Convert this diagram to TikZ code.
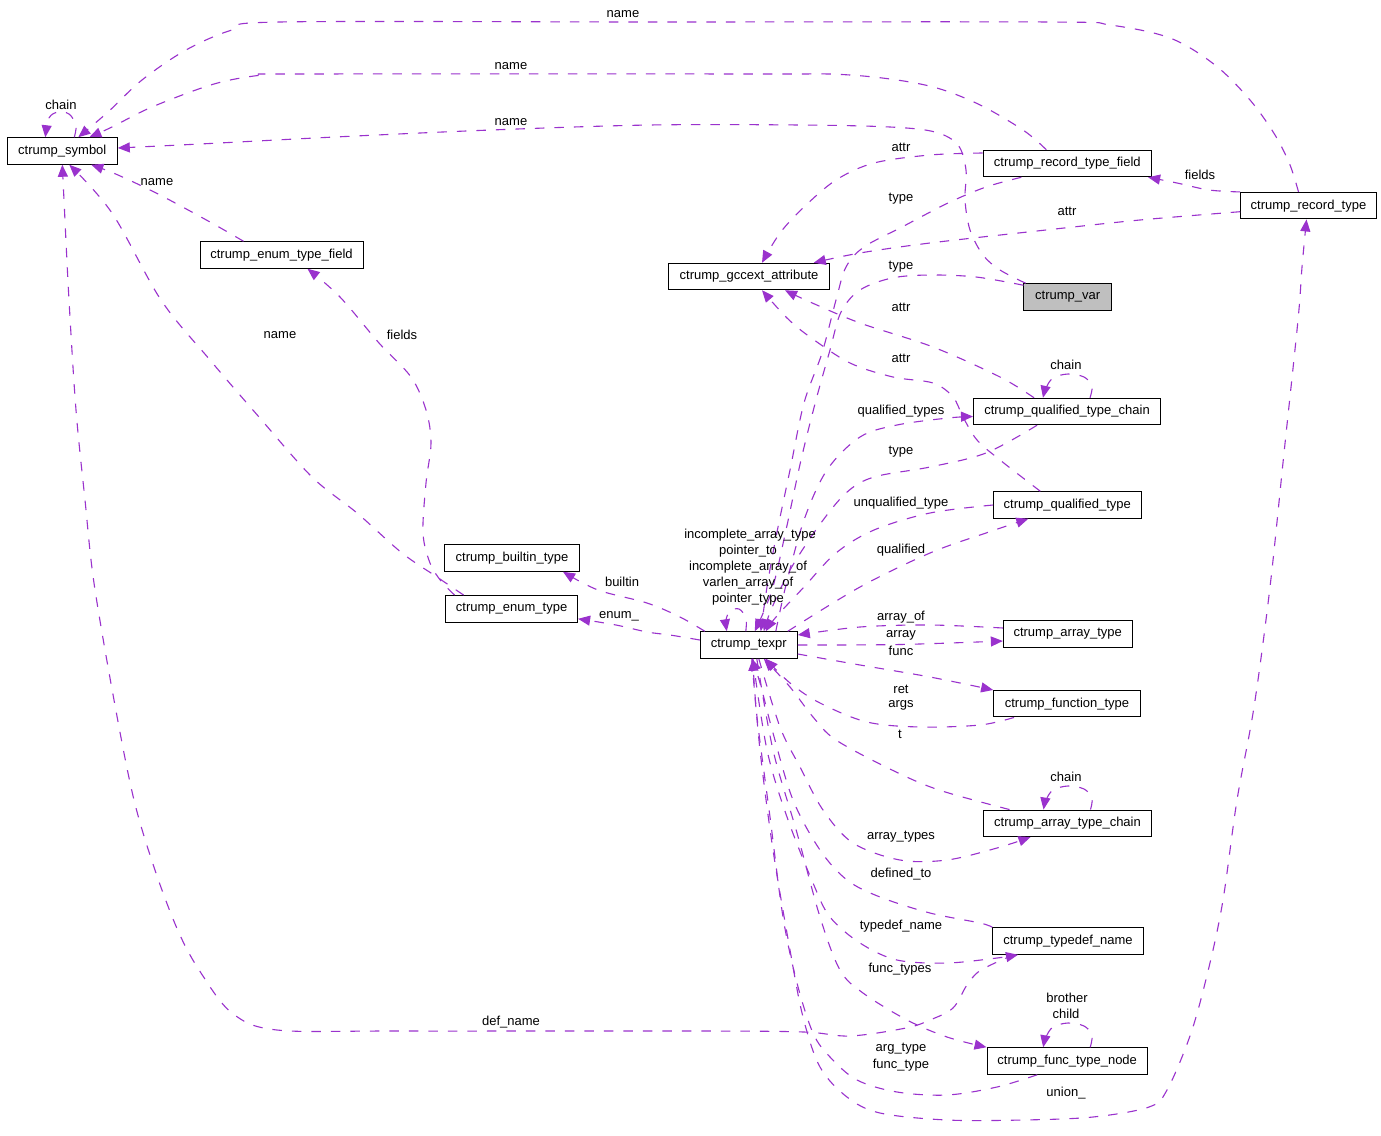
\documentclass[tikz,border=0pt]{standalone}
\usepackage{fontspec}
\setmainfont{Liberation Sans}
\usetikzlibrary{arrows.meta}
\definecolor{edgec}{HTML}{9A32CD}
\definecolor{varfill}{HTML}{BFBFBF}
\begin{document}
\begin{tikzpicture}[x=1pt,y=-1pt,
  cls/.style={draw=black,line width=1pt,inner sep=0pt,minimum height=26.5pt,font=\fontsize{13pt}{15pt}\selectfont},
  lbl/.style={inner sep=0pt,font=\fontsize{13pt}{15pt}\selectfont},
  rel/.style={draw=edgec,line width=1.1pt,dash pattern=on 9.5pt off 10pt,-{Triangle[length=12pt,width=10pt]}},
  sm/.style={smooth,tension=0.55}]
\useasboundingbox (0,0) rectangle (1381,1135);
\fill[white] (0,0) rectangle (1381,1135);
% classes
\node[cls,minimum width=110pt] (sym) at (62.3,151) {ctrump\_symbol};
\node[cls,minimum width=163pt] (etf) at (281.5,255) {ctrump\_enum\_type\_field};
\node[cls,minimum width=160.5pt] (gcc) at (749,276.5) {ctrump\_gccext\_attribute};
\node[cls,minimum width=168.6pt] (rtf) at (1067.3,163.5) {ctrump\_record\_type\_field};
\node[cls,minimum width=135.6pt] (rt) at (1308.5,205.7) {ctrump\_record\_type};
\node[cls,minimum width=87.5pt,fill=varfill] (var) at (1067.7,297) {ctrump\_var};
\node[cls,minimum width=187pt] (qtc) at (1067,411.5) {ctrump\_qualified\_type\_chain};
\node[cls,minimum width=147.4pt] (qt) at (1067.3,505) {ctrump\_qualified\_type};
\node[cls,minimum width=135pt] (bt) at (512,558) {ctrump\_builtin\_type};
\node[cls,minimum width=132pt] (et) at (511.6,608.8) {ctrump\_enum\_type};
\node[cls,minimum width=97pt] (texpr) at (748.8,645) {ctrump\_texpr};
\node[cls,minimum width=128.7pt] (at) at (1067.7,634) {ctrump\_array\_type};
\node[cls,minimum width=146.8pt] (ft) at (1067,703.7) {ctrump\_function\_type};
\node[cls,minimum width=168.3pt] (atc) at (1067.5,823.3) {ctrump\_array\_type\_chain};
\node[cls,minimum width=150.5pt] (tn) at (1068,941) {ctrump\_typedef\_name};
\node[cls,minimum width=160.4pt] (ftn) at (1067.2,1061) {ctrump\_func\_type\_node};
% edges
\draw[rel] plot[sm] coordinates {([xshift=-10pt]rt.north) (1290,165) (1275,135) (1250,100) (1215,65) (1170,38) (1110,25) (1050,22) (650,22) (280,22) (232,30) (186,50) (142,80) (108,112) ([xshift=16pt]sym.north)};
\draw[rel] plot[sm] coordinates {([xshift=-21pt]rtf.north) (1023,130) (976,103) (925,85) (850,75) (750,74) (300,74) (262,75) (214,84) (152,107) (112,127) ([xshift=27pt]sym.north)};
\draw[rel] plot[sm] coordinates {([xshift=-42pt]var.north) (1000,270) (983,255) (970,230) (965,200) (966,170) (958,145) (935,132) (890,127) (800,125) (650,125) (491,130) (335,137) (200,144) ([yshift=3pt]sym.east)};
\draw[rel] plot[sm] coordinates {([xshift=12pt]sym.north) (76,125) (69,114) (58,112) (49,118) ([xshift=-17pt]sym.north)};
\draw[rel] plot[sm] coordinates {([xshift=-38pt]etf.north) (210,222) (160,195) (118,175) ([xshift=29pt]sym.south)};
\draw[rel] plot[sm] coordinates {([xshift=-48pt]et.north) (437,577) (402,553) (357,513) (312,477) (259,417) (210,360) (161,300) (112,213) ([xshift=7pt]sym.south)};
\draw[rel] plot[sm] coordinates {([xshift=-57pt]et.north) (441,581) (430,563) (423,533) (426,483) (431,443) (426,410) (411,377) (379,343) (340,297) ([xshift=26pt]etf.south)};
\draw[rel] plot[sm] coordinates {([xshift=-54pt]tn.south) (981,970) (967,985) (953,1008) (930,1020) (906,1028) (850,1036) (804,1032) (700,1031) (400,1031) (277,1030) (232,1013) (201,973) (179,933) (156,873) (134,800) (114,700) (94,583) (85,500) (76,410) (69,300) (64,200) (sym.south)};
\draw[rel] plot[sm] coordinates {([yshift=10.5pt]rtf.west) (930,155) (874,163) (836,180) (804,207) (780,233) ([xshift=13pt]gcc.north)};
\draw[rel] plot[sm] coordinates {([xshift=-46pt]rtf.south) (986,187) (948,203) (902,227) (864,247) (846,267) (836,300) (822,353) (804,403) (790,470) (776,537) (767,587) ([xshift=12pt]texpr.north)};
\draw[rel] plot[sm] coordinates {([yshift=-6pt]rt.west) (1140,220) (1046,230) (930,243) (860,253) ([xshift=-16pt]gcc.north east)};
\draw[rel] plot[sm] coordinates {(rt.north west) (1209,190) (1177,183) ([xshift=-4pt]rtf.south east)};
\draw[rel] plot[sm] coordinates {([yshift=-2pt]var.north west) (976,277) (930,275) (892,278) (860,290) (841,312) (830,350) (816,400) (801,460) (786,530) (772,590) ([xshift=6pt]texpr.north)};
\draw[rel] plot[sm] coordinates {([xshift=3pt]texpr.south) (760,750) (773,850) (790,950) (803,1017) (820,1067) (847,1097) (880,1113) (947,1120) (1023,1120) (1093,1117) (1149,1107) (1167,1090) (1191,1033) (1209,967) (1223,900) (1237,800) (1254,707) (1270,587) (1284,453) (1298,320) (1302,267) ([xshift=-2pt]rt.south)};
\draw[rel] plot[sm] coordinates {([xshift=-33pt]qtc.north) (1000,377) (933,347) (860,323) (810,302) ([xshift=36pt]gcc.south)};
\draw[rel] plot[sm] coordinates {([xshift=-27pt]qt.north) (1000,460) (977,440) (963,417) (953,397) (933,383) (893,377) (850,363) (810,337) (787,318) ([xshift=13pt]gcc.south)};
\draw[rel] plot[sm] coordinates {([xshift=23pt]qtc.north) (1092,386) (1084,377) (1068,374) (1053,378) (1046,388) ([xshift=-24pt]qtc.north)};
\draw[rel] plot[sm] coordinates {([xshift=27pt]texpr.north) (786,585) (804,520) (827,470) (860,437) (897,425) (948,418) ([yshift=-5pt]qtc.west)};
\draw[rel] plot[sm] coordinates {([xshift=-30pt]qtc.south) (986,453) (930,467) (874,477) (846,493) (818,527) (790,570) (771,610) ([xshift=15pt]texpr.north)};
\draw[rel] plot[sm] coordinates {(qt.west) (930,513) (874,530) (836,553) (804,587) (776,617) ([xshift=17pt]texpr.north)};
\draw[rel] plot[sm] coordinates {([xshift=-10pt]texpr.north east) (860,587) (930,553) (986,533) ([xshift=-39pt]qt.south)};
\draw[rel] plot[sm] coordinates {([xshift=-3pt]texpr.north) (746,618) (739,609) (730,611) (726,620) ([xshift=-22pt]texpr.north)};
\draw[rel] plot[sm] coordinates {([yshift=6pt]at.west) (930,625) (860,627) ([yshift=10pt]texpr.east)};
\draw[rel] plot[sm] coordinates {(texpr.east) (900,644.5) ([yshift=-7pt]at.west)};
\draw[rel] plot[sm] coordinates {([yshift=-9pt]texpr.east) (860,665) (930,677) (ft.north west)};
\draw[rel] plot[sm] coordinates {([xshift=-53pt]ft.south) (980,725) (920,727) (867,722) (820,703) (790,683) ([xshift=17pt]texpr.south)};
\draw[rel] plot[sm] coordinates {([xshift=-58pt]atc.north) (939,790) (892,770) (836,740) (813,717) (790,687) ([xshift=15pt]texpr.south)};
\draw[rel] plot[sm] coordinates {([xshift=10pt]texpr.south) (780,727) (800,767) (823,810) (853,843) (900,860) (947,860) (997,848) ([xshift=-37pt]atc.south)};
\draw[rel] plot[sm] coordinates {(tn.north west) (980,923) (930,913) (880,897) (847,880) (820,850) (793,800) (773,733) (760,683) ([xshift=3pt]texpr.south)};
\draw[rel] plot[sm] coordinates {([xshift=4pt]texpr.south) (767,750) (787,817) (813,883) (830,917) (860,943) (897,960) (947,963) (997,958) ([xshift=-50pt]tn.south)};
\draw[rel] plot[sm] coordinates {([xshift=8pt]texpr.south) (773,750) (797,833) (820,917) (840,970) (863,993) (907,1020) (947,1037) (ftn.north west)};
\draw[rel] plot[sm] coordinates {([xshift=-30pt]ftn.south) (997,1087) (947,1095) (897,1092) (857,1080) (830,1057) (813,1033) (797,983) (783,917) (770,817) (757,717) ([xshift=4pt]texpr.south)};
\draw[rel] plot[sm] coordinates {([xshift=23pt]atc.north) (1092,798) (1084,789) (1068,786) (1053,790) (1046,800) ([xshift=-24pt]atc.north)};
\draw[rel] plot[sm] coordinates {([xshift=23pt]ftn.north) (1092,1035) (1084,1026) (1068,1023) (1053,1027) (1046,1037) ([xshift=-24pt]ftn.north)};
\draw[rel] plot[sm] coordinates {([xshift=5pt]texpr.north west) (680,617) (647,603) (598,590) ([xshift=-17pt]bt.south east)};
\draw[rel] plot[sm] coordinates {([yshift=5pt]texpr.west) (670,635) (647,632) (616,625) ([yshift=-10pt]et.east)};
% labels
\node[lbl] (l1) at (623,14) {name};
\node[lbl] (l2) at (511,66) {name};
\node[lbl] (l3) at (511,122) {name};
\node[lbl] (l4) at (61,105) {chain};
\node[lbl] (l5) at (157,182) {name};
\node[lbl] (l6) at (280,335) {name};
\node[lbl] (l7) at (402,335) {fields};
\node[lbl] (l8) at (901,147) {attr};
\node[lbl] (l9) at (901,199) {type};
\node[lbl] (l10) at (1200,175) {fields};
\node[lbl] (l11) at (1067,211) {attr};
\node[lbl] (l12) at (901,267) {type};
\node[lbl] (l13) at (901,307) {attr};
\node[lbl] (l14) at (901,358) {attr};
\node[lbl] (l15) at (1066,365) {chain};
\node[lbl] (l16) at (901,411) {qualified\_types};
\node[lbl] (l17) at (901,452) {type};
\node[lbl] (l18) at (901,503) {unqualified\_type};
\node[lbl] (l19) at (901,550) {qualified};
\node[lbl] (l20) at (750,535) {incomplete\_array\_type};
\node[lbl] (l21) at (748,551) {pointer\_to};
\node[lbl] (l22) at (748,567) {incomplete\_array\_of};
\node[lbl] (l23) at (748,583) {varlen\_array\_of};
\node[lbl] (l24) at (748,599) {pointer\_type};
\node[lbl] (l25) at (622,582) {builtin};
\node[lbl] (l26) at (619,616) {enum\_};
\node[lbl] (l27) at (901,617) {array\_of};
\node[lbl] (l28) at (901,635) {array};
\node[lbl] (l29) at (901,651) {func};
\node[lbl] (l30) at (901,689) {ret};
\node[lbl] (l31) at (901,705) {args};
\node[lbl] (l32) at (900,734) {t};
\node[lbl] (l33) at (1066,777) {chain};
\node[lbl] (l34) at (901,837) {array\_types};
\node[lbl] (l35) at (901,874) {defined\_to};
\node[lbl] (l36) at (901,926) {typedef\_name};
\node[lbl] (l37) at (900,969) {func\_types};
\node[lbl] (l38) at (1067,998) {brother};
\node[lbl] (l39) at (1066,1014) {child};
\node[lbl] (l40) at (511,1022) {def\_name};
\node[lbl] (l41) at (901,1049) {arg\_type};
\node[lbl] (l42) at (901,1065) {func\_type};
\node[lbl] (l43) at (1066,1093) {union\_};
\end{tikzpicture}
\end{document}
